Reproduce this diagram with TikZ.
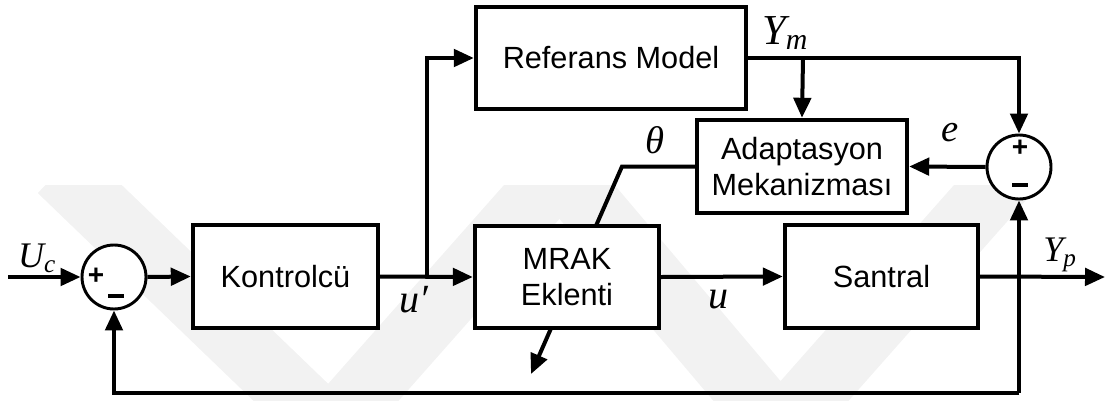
\documentclass[tikz,border=0pt]{standalone}
\usepackage{fontspec}
\setmainfont{Liberation Sans}
\newfontfamily\tms{Liberation Serif}
\usetikzlibrary{arrows.meta}
\begin{document}
\begin{tikzpicture}[x=0.75pt,y=-0.75pt,
  line width=3pt,
  >={Triangle[length=15pt,width=13pt]},
  blk/.style={draw,line width=3.3pt,fill=white,align=center,inner sep=0pt,
    font=\fontsize{23}{27.5}\selectfont},
  sumc/.style={draw,circle,line width=2.2pt,fill=white,minimum size=48pt,inner sep=0pt},
  mlab/.style={font=\tms\itshape\fontsize{30}{30}\selectfont,inner sep=0pt},
  sgn/.style={font=\bfseries\fontsize{21}{21}\selectfont,inner sep=0pt},
  wm/.style={line width=48pt,draw=black!5,line cap=butt}]
\useasboundingbox (0,0) rectangle (1106,400);
% faint watermark chevrons
\begin{scope}
\clip (0,185) rectangle (1106,400);
\draw[wm] (60,170) -- (330,430) -- (560,170);
\draw[wm] (560,170) -- (780,430) -- (1010,170);
\end{scope}
% nodes
\node[sumc] (s1) at (114,277) {};
\node[sgn] (s1p) at (96,276) {+};
\node[inner sep=0pt] (s1m) at (116,296) {\rule{12pt}{3pt}};
\node[blk,minimum width={185*0.75pt},minimum height={103*0.75pt}] (kon) at (285.5,276.5) {Kontrolcü};
\node[blk,minimum width={270*0.75pt},minimum height={102*0.75pt}] (ref) at (611,58) {Referans Model};
\node[blk,minimum width={210*0.75pt},minimum height={93*0.75pt}] (ada) at (802,166.5) {Adaptasyon\\Mekanizması};
\coordinate (thk) at (622,166.5);
\coordinate (thend) at (531,374);
\draw[->] (ada.west) -- (thk) -- (thend);
\node[blk,minimum width={184*0.75pt},minimum height={102*0.75pt}] (mrak) at (567,277) {MRAK\\Eklenti};
\node[blk,minimum width={193*0.75pt},minimum height={103*0.75pt}] (san) at (881.5,276.5) {Santral};
\node[sumc] (s2) at (1019,167) {};
\node[sgn] (s2p) at (1020,148) {+};
\node[inner sep=0pt] (s2m) at (1020,185) {\rule{12pt}{3pt}};
% coordinates
\coordinate (in) at (8,277);
\coordinate (br1) at (427,277);
\coordinate (out) at (1105,277);
\coordinate (ymb) at (803,58);
\coordinate (fb) at (1019,393);
% connectors
\draw[->] (in) -- (s1.west);
\draw[->] (s1.east) -- (kon.west);
\draw[->] (kon.east) -- (mrak.west);
\draw[->] (br1) |- (ref.west);
\draw[->] (mrak.east) -- (san.west);
\draw[->] (san.east) -- (out);
\draw[->] (ref.east) -| (s2.north);
\draw[->] (ymb) -- (ada.north);
\draw[->] (s2.west) -- (ada.east);
\draw[->] (fb) -- (s2.south);
\draw[->] (fb) -| (s1.south);
% labels
\node[mlab,font=\tms\itshape\fontsize{27}{27}\selectfont] (luc) at (37,258) {U\textsubscript{c}};
\node[mlab] (lup) at (414,300) {u′};
\node[mlab,font=\tms\itshape\fontsize{29}{29}\selectfont] (lth) at (655,140) {θ};
\node[mlab] (lu) at (718,300) {u};
\node[mlab,font=\tms\itshape\fontsize{32}{32}\selectfont] (lym) at (785,33) {Y\textsubscript{m}};
\node[mlab,font=\tms\itshape\fontsize{29}{29}\selectfont] (le) at (950,133) {e};
\node[mlab,font=\tms\itshape\fontsize{27}{27}\selectfont] (lyp) at (1060,255) {Y\textsubscript{p}};
\end{tikzpicture}
\end{document}
